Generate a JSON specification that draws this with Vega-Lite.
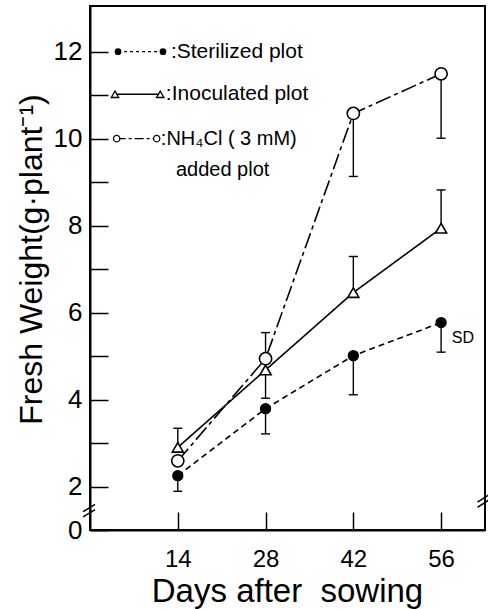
{
  "$schema": "https://vega.github.io/schema/vega-lite/v6.json",
  "width": 395,
  "height": 524,
  "autosize": {"type": "none"},
  "padding": {"left": 90, "top": 6, "right": 3, "bottom": 79},
  "background": "white",
  "config": {
    "view": {"stroke": "black", "strokeWidth": 2},
    "axis": {
      "domainColor": "black", "domainWidth": 2, "tickColor": "black", "tickWidth": 1.5,
      "labelColor": "black", "titleColor": "black", "grid": false,
      "labelFont": "Liberation Sans Narrow, Liberation Sans", "titleFont": "Liberation Sans",
      "titleFontWeight": "normal"
    }
  },
  "data": {"values": [
    {"day": 14, "series": "Sterilized", "weight": 2.25, "err": 1.89},
    {"day": 28, "series": "Sterilized", "weight": 3.79, "err": 3.21},
    {"day": 42, "series": "Sterilized", "weight": 5.01, "err": 4.11},
    {"day": 56, "series": "Sterilized", "weight": 5.77, "err": 5.09},
    {"day": 14, "series": "Inoculated", "weight": 2.9, "err": 3.34},
    {"day": 28, "series": "Inoculated", "weight": 4.68, "err": 5.54},
    {"day": 42, "series": "Inoculated", "weight": 6.46, "err": 7.29},
    {"day": 56, "series": "Inoculated", "weight": 7.94, "err": 8.82},
    {"day": 14, "series": "NH4Cl", "weight": 2.59, "err": null},
    {"day": 28, "series": "NH4Cl", "weight": 4.94, "err": 4.03},
    {"day": 42, "series": "NH4Cl", "weight": 10.58, "err": 9.13},
    {"day": 56, "series": "NH4Cl", "weight": 11.49, "err": 10.01}
  ]},
  "layer": [
    {
      "mark": {"type": "line", "color": "black", "strokeWidth": 1.6},
      "encoding": {
        "x": {
          "field": "day", "type": "quantitative",
          "scale": {"domain": [0, 63], "nice": false, "zero": false},
          "axis": {
            "values": [14, 28, 42, 56], "tickSize": -18, "labelPadding": 35,
            "labelFontSize": 24, "labelBaseline": "top",
            "title": "Days after\u00a0\u00a0sowing", "titleFontSize": 33,
            "titleBaseline": "alphabetic", "titleY": 71, "titleX": 197
          }
        },
        "y": {
          "field": "weight", "type": "quantitative",
          "scale": {"domain": [1, 13.05], "nice": false, "zero": false},
          "axis": {
            "values": [1, 2, 3, 4, 5, 6, 7, 8, 9, 10, 11, 12], "tickSize": -18, "labelPadding": 26,
            "labelExpr": "datum.value == 1 ? '0' : (datum.value % 2 == 0 ? datum.label : '')",
            "labelFontSize": 26,
            "title": "Fresh Weight(g\u00b7plant\u207b\u00b9)", "titleFontSize": 32,
            "titleX": -59, "titleY": 253, "titleAlign": "center", "titleBaseline": "middle", "titleAngle": 270
          }
        },
        "detail": {"field": "series"},
        "strokeDash": {"field": "series", "type": "nominal", "legend": null,
          "scale": {"domain": ["Sterilized", "Inoculated", "NH4Cl"], "range": [[6, 4], [1, 0], [16, 4, 4, 4]]}}
      }
    },
    {
      "transform": [{"filter": "datum.err != null"}],
      "mark": {"type": "rule", "color": "black", "strokeWidth": 1.4},
      "encoding": {
        "x": {"field": "day", "type": "quantitative"},
        "y": {"field": "weight", "type": "quantitative"},
        "y2": {"field": "err"}
      }
    },
    {
      "transform": [{"filter": "datum.err != null"}],
      "mark": {"type": "tick", "orient": "horizontal", "color": "black", "size": 9, "thickness": 1.4, "opacity": 1},
      "encoding": {
        "x": {"field": "day", "type": "quantitative"},
        "y": {"field": "err", "type": "quantitative"}
      }
    },
    {
      "mark": {"type": "point", "filled": true, "stroke": "black", "strokeWidth": 1.6, "opacity": 1},
      "encoding": {
        "x": {"field": "day", "type": "quantitative"},
        "y": {"field": "weight", "type": "quantitative"},
        "shape": {"field": "series", "type": "nominal", "legend": null,
          "scale": {"domain": ["Sterilized", "Inoculated", "NH4Cl"], "range": ["circle", "triangle-up", "circle"]}},
        "fill": {"field": "series", "type": "nominal", "legend": null,
          "scale": {"domain": ["Sterilized", "Inoculated", "NH4Cl"], "range": ["black", "white", "white"]}},
        "size": {"field": "series", "type": "nominal", "legend": null,
          "scale": {"domain": ["Sterilized", "Inoculated", "NH4Cl"], "range": [95, 150, 75]}}
      }
    },
    {
      "data": {"values": [{"k": 1}]},
      "mark": {"type": "rule", "color": "black", "strokeWidth": 1.3, "strokeDash": [3, 3]},
      "encoding": {"x": {"datum": 4.47, "type": "quantitative"}, "x2": {"datum": 11.64}, "y": {"datum": 12, "type": "quantitative"}}
    },
    {
      "data": {"values": [{"k": 1}]},
      "mark": {"type": "point", "shape": "circle", "filled": true, "fill": "black", "size": 45, "opacity": 1},
      "encoding": {"x": {"datum": 4.47, "type": "quantitative"}, "y": {"datum": 12, "type": "quantitative"}}
    },
    {
      "data": {"values": [{"k": 1}]},
      "mark": {"type": "point", "shape": "circle", "filled": true, "fill": "black", "size": 45, "opacity": 1},
      "encoding": {"x": {"datum": 11.64, "type": "quantitative"}, "y": {"datum": 12, "type": "quantitative"}}
    },
    {
      "data": {"values": [{"k": 1}]},
      "mark": {"type": "text", "text": ":Sterilized plot", "align": "left", "baseline": "middle", "fontSize": 21, "font": "Liberation Sans", "color": "black"},
      "encoding": {"x": {"datum": 12.9, "type": "quantitative"}, "y": {"datum": 12, "type": "quantitative"}}
    },
    {
      "data": {"values": [{"k": 1}]},
      "mark": {"type": "rule", "color": "black", "strokeWidth": 1.5},
      "encoding": {"x": {"datum": 3.99, "type": "quantitative"}, "x2": {"datum": 11.2}, "y": {"datum": 11.02, "type": "quantitative"}}
    },
    {
      "data": {"values": [{"k": 1}]},
      "mark": {"type": "point", "shape": "triangle-up", "filled": true, "fill": "white", "stroke": "black", "strokeWidth": 1.3, "size": 55, "opacity": 1},
      "encoding": {"x": {"datum": 3.99, "type": "quantitative"}, "y": {"datum": 11.02, "type": "quantitative"}}
    },
    {
      "data": {"values": [{"k": 1}]},
      "mark": {"type": "point", "shape": "triangle-up", "filled": true, "fill": "white", "stroke": "black", "strokeWidth": 1.3, "size": 55, "opacity": 1},
      "encoding": {"x": {"datum": 11.2, "type": "quantitative"}, "y": {"datum": 11.02, "type": "quantitative"}}
    },
    {
      "data": {"values": [{"k": 1}]},
      "mark": {"type": "text", "text": ":Inoculated plot", "align": "left", "baseline": "middle", "fontSize": 21, "font": "Liberation Sans", "color": "black"},
      "encoding": {"x": {"datum": 12.1, "type": "quantitative"}, "y": {"datum": 11.02, "type": "quantitative"}}
    },
    {
      "data": {"values": [{"k": 1}]},
      "mark": {"type": "rule", "color": "black", "strokeWidth": 1.4, "strokeDash": [9, 3, 3, 3]},
      "encoding": {"x": {"datum": 4.25, "type": "quantitative"}, "x2": {"datum": 10.63}, "y": {"datum": 10, "type": "quantitative"}}
    },
    {
      "data": {"values": [{"k": 1}]},
      "mark": {"type": "point", "shape": "circle", "filled": true, "fill": "white", "stroke": "black", "strokeWidth": 1.3, "size": 40, "opacity": 1},
      "encoding": {"x": {"datum": 4.25, "type": "quantitative"}, "y": {"datum": 10, "type": "quantitative"}}
    },
    {
      "data": {"values": [{"k": 1}]},
      "mark": {"type": "point", "shape": "circle", "filled": true, "fill": "white", "stroke": "black", "strokeWidth": 1.3, "size": 40, "opacity": 1},
      "encoding": {"x": {"datum": 10.63, "type": "quantitative"}, "y": {"datum": 10, "type": "quantitative"}}
    },
    {
      "data": {"values": [{"k": 1}]},
      "mark": {"type": "text", "text": ":NH\u2084Cl ( 3 mM)", "align": "left", "baseline": "middle", "fontSize": 20, "font": "Liberation Sans", "color": "black"},
      "encoding": {"x": {"datum": 11.3, "type": "quantitative"}, "y": {"datum": 10, "type": "quantitative"}}
    },
    {
      "data": {"values": [{"k": 1}]},
      "mark": {"type": "text", "text": "added plot", "align": "left", "baseline": "middle", "fontSize": 20, "font": "Liberation Sans", "color": "black"},
      "encoding": {"x": {"datum": 13.7, "type": "quantitative"}, "y": {"datum": 9.28, "type": "quantitative"}}
    },
    {
      "data": {"values": [{"k": 1}]},
      "mark": {"type": "text", "text": "SD", "align": "left", "baseline": "middle", "fontSize": 16, "font": "Liberation Sans", "color": "black"},
      "encoding": {"x": {"datum": 57.7, "type": "quantitative"}, "y": {"datum": 5.42, "type": "quantitative"}}
    },
    {
      "data": {"values": [{"k": 1}]},
      "mark": {"type": "rule", "color": "black", "strokeWidth": 1.5},
      "encoding": {"x": {"datum": -1.1, "type": "quantitative"}, "x2": {"datum": 0.8}, "y": {"datum": 1.3, "type": "quantitative"}, "y2": {"datum": 1.47}}
    },
    {
      "data": {"values": [{"k": 1}]},
      "mark": {"type": "rule", "color": "black", "strokeWidth": 1.5},
      "encoding": {"x": {"datum": -1.1, "type": "quantitative"}, "x2": {"datum": 0.8}, "y": {"datum": 1.42, "type": "quantitative"}, "y2": {"datum": 1.59}}
    },
    {
      "data": {"values": [{"k": 1}]},
      "mark": {"type": "rule", "color": "black", "strokeWidth": 1.5},
      "encoding": {"x": {"datum": 61.8, "type": "quantitative"}, "x2": {"datum": 63.6}, "y": {"datum": 1.52, "type": "quantitative"}, "y2": {"datum": 1.69}}
    },
    {
      "data": {"values": [{"k": 1}]},
      "mark": {"type": "rule", "color": "black", "strokeWidth": 1.5},
      "encoding": {"x": {"datum": 61.8, "type": "quantitative"}, "x2": {"datum": 63.6}, "y": {"datum": 1.64, "type": "quantitative"}, "y2": {"datum": 1.81}}
    }
  ]
}
